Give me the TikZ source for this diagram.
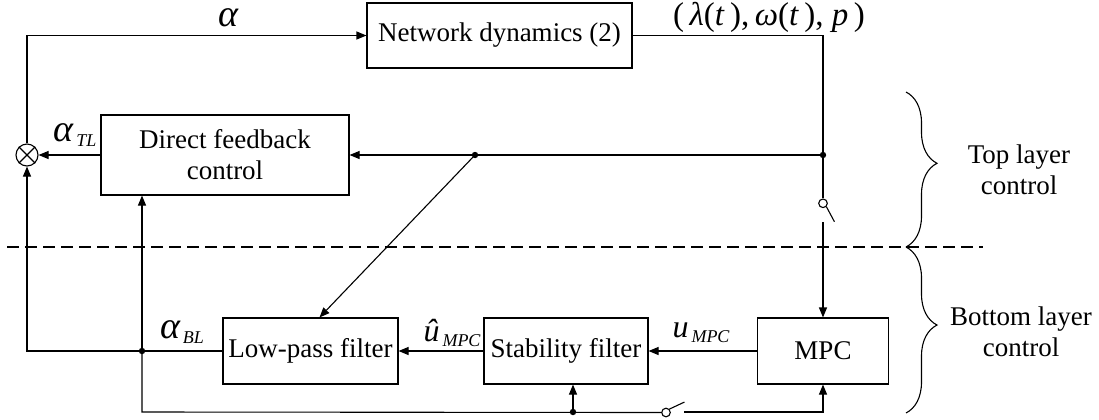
\documentclass[tikz,border=0pt]{standalone}
\usepackage{fontspec}
\setmainfont{Liberation Serif}
\usetikzlibrary{positioning, arrows.meta, decorations.pathreplacing, calc}

% variable with subscript
\newcommand{\varsub}[3]{{\fontsize{#1}{#1}\selectfont\itshape #2}{\fontsize{9}{9}\selectfont\itshape\,\raisebox{-0.55ex}{#3}}}

\tikzset{
    blk/.style={draw, inner sep=0pt, align=center, font=\fontsize{13.5}{15.5}\selectfont},
    lbl/.style={inner sep=0pt, align=center, font=\fontsize{13.5}{15.5}\selectfont},
    arr/.style={-{Triangle[length=5pt,width=4pt]}},
    sumnode/.style={draw, circle, inner sep=0pt, minimum size=11pt},
    swnode/.style={draw, circle, inner sep=0pt, minimum size=4.3pt},
}

\begin{document}
\begin{tikzpicture}[x=0.5pt, y=-0.5pt, line width=0.55pt]
    \useasboundingbox (0,0) rectangle (1099,419);
    % Blocks
    \node[blk, minimum width=132.5pt, minimum height=32.5pt] (net) at (499.5,35.5) {Network dynamics (2)};
    \node[blk, minimum width=124pt, minimum height=40pt] (dfc) at (225,155) {Direct feedback\\control};
    \node[blk, minimum width=87.5pt, minimum height=33pt] (lpf) at (310.5,351) {Low-pass filter};
    \node[blk, minimum width=82pt, minimum height=33pt] (sf) at (566,351) {Stability filter};
    \node[blk, minimum width=65.5pt, minimum height=33pt] (mpc) at (823,351) {MPC};
    \node[sumnode] (sum) at (27,155) {};
    \draw (sum.north west) -- (sum.south east) (sum.north east) -- (sum.south west);

    % Junctions and switches
    \coordinate (jr) at (823,155);
    \coordinate (jd) at (475,155);
    \coordinate (jb) at (142,351);
    \coordinate (bl) at (142,412);
    \coordinate (jsf) at (573,412);
    \node[swnode] (swt) at (823,203.3) {};
    \coordinate (swtb) at (823,222);
    \node[swnode] (swb) at (666,412.5) {};
    \coordinate (swbr) at (684,412);

    % Top loop
    \draw[arr] (sum.north) |- (net.west);
    \draw (net.east) -| (jr);
    \draw[arr] (jr) -- (dfc.east);
    \draw[arr] (dfc.west) -- (sum.east);
    \draw (jr) -- (swt.north);
    \draw (swt.south east) -- ++(8,15);
    \draw[arr] (swtb) -- (mpc.north);
    \draw[arr] (jd) -- ([xshift=4.5pt]lpf.north);

    % Bottom chain
    \draw[arr] (mpc.west) -- (sf.east);
    \draw[arr] (sf.west) -- (lpf.east);
    \draw[arr] (lpf.west) -| (sum.south);
    \draw[arr] (jb) -- (jb |- dfc.south);
    \draw (jb) -- (bl) -- (swb.west);
    \draw (swb.north east) -- ++(15,-7);
    \draw[arr] (swbr) -| (mpc.south);
    \draw[arr] (jsf) -- (jsf |- sf.south);
    \foreach \p in {jr,jd,jb,jsf} {
        \fill (\p) circle (1.6pt);
    }

    % Signal labels
    \node[lbl] (la) at (230,20) {\varsub{19}{α}{}};
    \node[lbl] (lout) at (769,17) {\fontsize{16.5}{16.5}\selectfont(\,\textit{λ}(\textit{t}\,),\,\textit{ω}(\textit{t}\,),~\textit{p}\,)};
    \node[lbl] (latl) at (75,135) {\varsub{19}{α}{TL}};
    \node[lbl] (labl) at (182,332) {\varsub{19}{α}{BL}};
    \node[lbl] (luh) at (452,333) {\varsub{16}{\^{u}}{MPC}};
    \node[lbl] (lu) at (701,333) {\varsub{16}{u}{MPC}};

    % Layer separation and braces
    \draw[dash pattern=on 6pt off 3pt] (7,247) -- (983,247);
    \draw[decorate, decoration={brace, amplitude=15.5pt, aspect=0.46}] (906,92) -- (906,247);
    \draw[decorate, decoration={brace, amplitude=15.5pt, aspect=0.47}] (906,247) -- (906,413);
    \node[lbl] (ltop) at (1019,170) {Top layer\\control};
    \node[lbl] (lbot) at (1021,332) {Bottom layer\\control};
\end{tikzpicture}
\end{document}
